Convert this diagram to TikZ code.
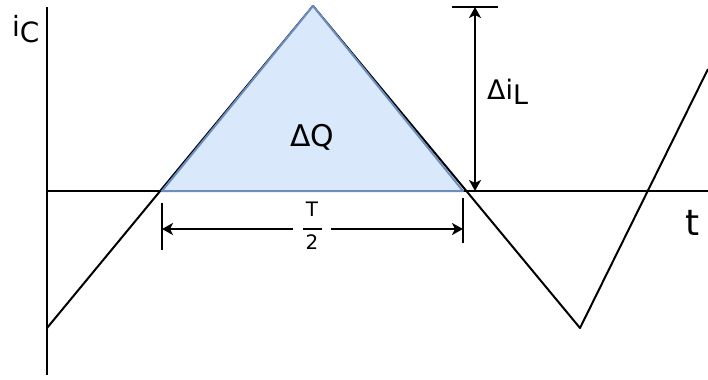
\documentclass[tikz,border=0pt]{standalone}
\usepackage{fontspec}
\setmainfont{DejaVu Sans}
\usepackage{xcolor}
\usepackage{tikz}
\usetikzlibrary{positioning, arrows.meta, calc}

\definecolor{areafill}{HTML}{DAE8FC}
\definecolor{areaedge}{HTML}{6C8EBF}

\begin{document}
\begin{tikzpicture}[
  x=1bp, y=-1bp,
  axis/.style={line width=2bp, black},
  wave/.style={line width=2bp, black, line join=round},
  area/.style={fill=areafill, draw=areaedge, line width=2bp, line join=round},
  dimline/.style={line width=2bp, black},
  dimarr/.style={dimline, -{Stealth[length=11bp, width=12bp, inset=3bp]}},
  dimboth/.style={dimline, {Stealth[length=11bp, width=12bp, inset=3bp]}-{Stealth[length=11bp, width=12bp, inset=3bp]}},
  lbl/.style={inner sep=0pt, font=\fontsize{30}{36}\selectfont},
]
\useasboundingbox (0,0) rectangle (708,379);

% === Axes ===
\coordinate (ytop) at (47,7);
\coordinate (ybot) at (47,375);
\coordinate (origin) at (47,191);
\coordinate (xend) at (708,191);
\draw[axis] (ybot) -- (ytop);
\draw[axis] (origin) -- (xend);

% === Capacitor current ===
\coordinate (start) at (47,328);
\coordinate (zero1) at (162,191);
\coordinate (peak) at (313,6);
\coordinate (zero2) at (463,191);
\coordinate (valley) at (580,328);
\coordinate (stop) at (708,69);
\draw[wave] (start) -- (peak) -- (valley) -- (stop);

% Charge area
\draw[area] (zero1) -- (peak) -- (zero2) -- cycle;
\node[lbl, anchor=base] (dq) at (312,146) {ΔQ};

% === Ripple Delta i_L ===
\coordinate (ripL) at (452,7);
\coordinate (ripR) at (498,7);
\coordinate (riptop) at (475,7);
\coordinate (ripbot) at (475,191);
\draw[dimline] (ripL) -- (ripR);
\draw[dimboth] (ripbot) -- (riptop);
\node[lbl, anchor=base west, font=\fontsize{27}{30}\selectfont] (dil) at (487,99) {Δi\raisebox{-6pt}{L}};

% === Half period ===
\coordinate (hl1) at (162,203);
\coordinate (hl2) at (162,250);
\coordinate (hr1) at (463,198);
\coordinate (hr2) at (463,243);
\draw[dimline] (hl1) -- (hl2);
\draw[dimline] (hr1) -- (hr2);
\node[inner xsep=9bp, inner ysep=0pt, font=\fontsize{20}{20}\selectfont] (half) at (312,229)
  {\begin{tabular}{@{}c@{}}T\\[-3pt]\rule[4pt]{19bp}{1.6bp}\\[-5pt]2\end{tabular}};
\draw[dimarr] (half.west) -- (hl1 |- half.west);
\draw[dimarr] (half.east) -- (hr1 |- half.east);

% === Axis labels ===
\node[lbl, anchor=base west, font=\fontsize{28}{34}\selectfont] (ic) at (12,36) {i\raisebox{-7pt}{C}};
\node[lbl, anchor=base west, font=\fontsize{36}{40}\selectfont] (t) at (685,235) {t};

\end{tikzpicture}
\end{document}
